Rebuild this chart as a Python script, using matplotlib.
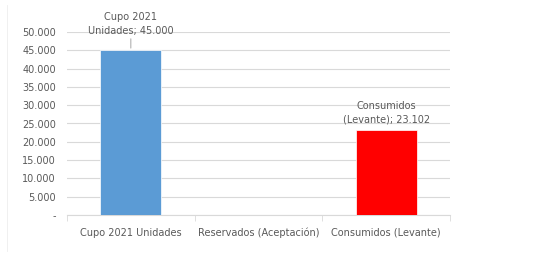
import numpy as np
import matplotlib.pyplot as plt
from matplotlib.ticker import FuncFormatter

# data
kategori = ['Cupo 2021 Unidades', 'Reservados (Aceptación)', 'Consumidos (Levante)']
nilai = [45000, 0, 23102]
warna = ['#5B9BD5', '#5B9BD5', '#FF0000']
label_data = ['Cupo 2021\nUnidades; 45.000', '', 'Consumidos\n(Levante); 23.102']

teks = '#595959'
grid = '#D9D9D9'

fig = plt.figure(figsize=(5.38, 2.56), dpi=100)
ax = fig.add_axes([67/538, 1 - 215/256, (450 - 67)/538, (215 - 32)/256])

x = np.arange(len(kategori))
ax.bar(x, nilai, width=0.48, color=warna, edgecolor='white', linewidth=0.5, zorder=3)

ax.set_xlim(-0.5, 2.5)
ax.set_ylim(0, 50000)
ax.set_yticks(np.arange(0, 50001, 5000))
ax.yaxis.set_major_formatter(FuncFormatter(lambda v, p: '-' if v == 0 else f'{int(v):,}'.replace(',', '.')))
ax.set_xticks(x)
ax.set_xticklabels(kategori)
ax.set_xticks([-0.5, 0.5, 1.5, 2.5], minor=True)

ax.grid(axis='y', color=grid, linewidth=0.8, zorder=0)
for s in ['top', 'right', 'left']:
    ax.spines[s].set_visible(False)
ax.spines['bottom'].set_color(grid)
ax.tick_params(axis='y', length=0, labelsize=7, colors=teks, pad=8)
ax.tick_params(axis='x', which='major', length=0, labelsize=7, colors=teks, pad=9)
ax.tick_params(axis='x', which='minor', length=4, color=grid)

# label data
ax.annotate(label_data[0], xy=(0, nilai[0] + 600), xytext=(0, nilai[0] + 3900),
            ha='center', va='bottom', fontsize=7, color=teks,
            arrowprops=dict(arrowstyle='-', color='#A6A6A6', lw=0.7,
                            shrinkA=0, shrinkB=0),
            annotation_clip=False, linespacing=1.5)
ax.text(2, nilai[2] + 1500, label_data[2], ha='center', va='bottom',
        fontsize=7, color=teks, linespacing=1.5)

# garis tepi kiri samar
fig.add_artist(plt.Line2D([7/538, 7/538], [0.02, 0.98], color='#EEEEEE', lw=0.6))

fig.savefig('out.png', dpi=100)
